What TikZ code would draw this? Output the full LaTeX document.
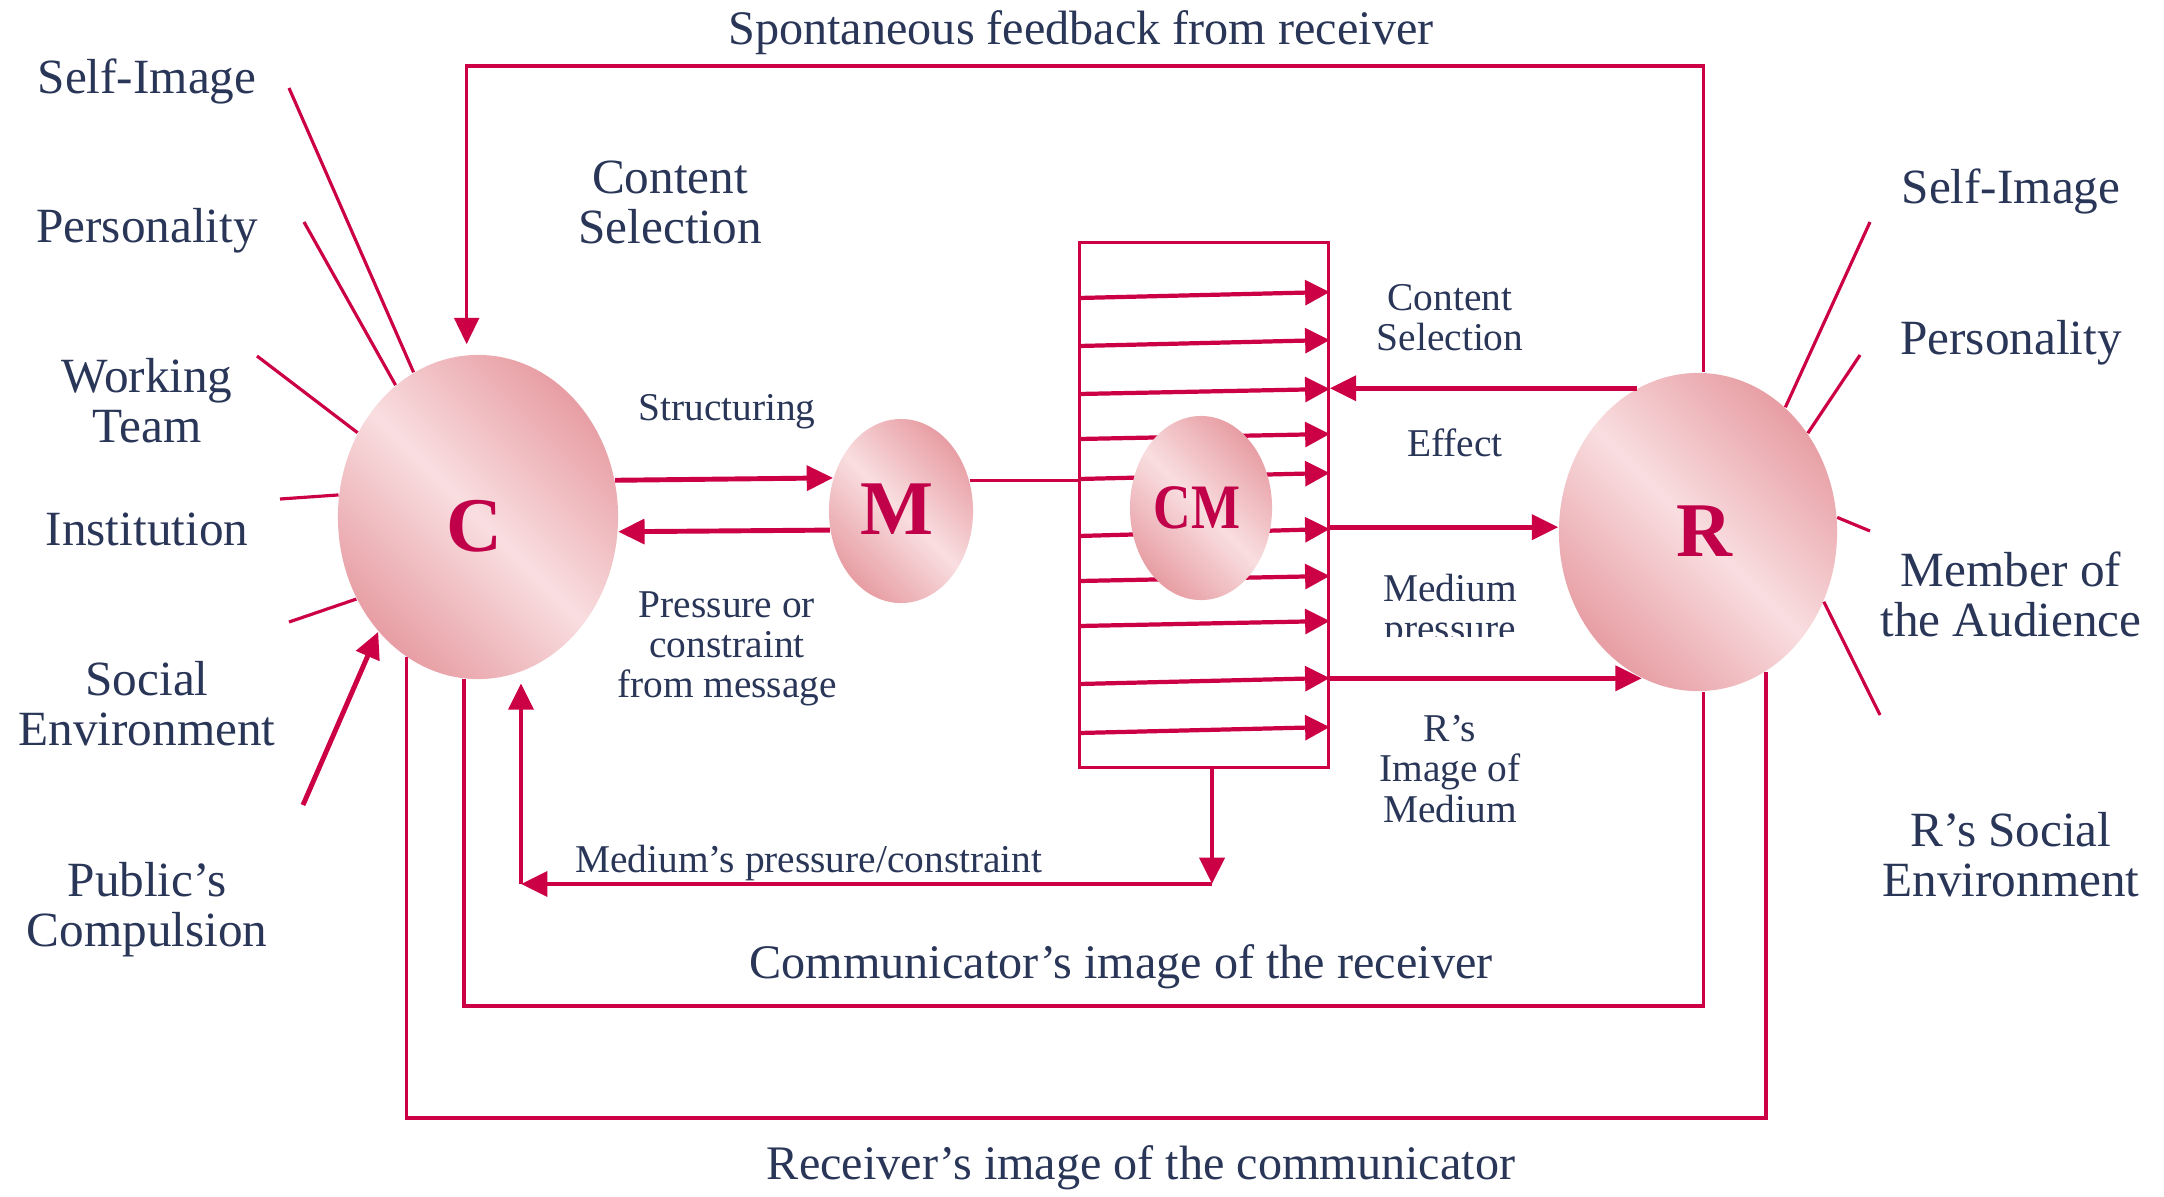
\documentclass[tikz,border=0pt]{standalone}
\usepackage{fontspec}
\setmainfont{Liberation Serif}
\usetikzlibrary{arrows.meta,shapes.geometric,calc}
\definecolor{crim}{RGB}{204,0,68}
\definecolor{navy}{RGB}{42,54,88}
\definecolor{letc}{RGB}{192,0,72}
\definecolor{pinkL}{RGB}{249,222,224}
\definecolor{pinkD}{RGB}{231,158,164}
\begin{document}
\begin{tikzpicture}[x=0.01cm,y=-0.01cm,
  frame/.style={draw=crim,line width=1pt},
  hd/.style={-{Triangle[length=7.5pt,width=7pt]}},
  arr/.style={draw=crim,line width=1.4pt,hd},
  inarr/.style={draw=crim,line width=1.2pt,-{Triangle[length=7pt,width=7pt]}},
  spoke/.style={draw=crim,line width=0.9pt},
  blob/.style={ellipse,inner sep=0pt,top color=pinkD,bottom color=pinkD,middle color=pinkL,shading angle=-45},
  letter/.style={font=\bfseries\fontsize{22}{22}\selectfont,text=letc,inner sep=0pt},
  biglab/.style={font=\fontsize{14}{14.2}\selectfont,text=navy,align=center,inner sep=0pt},
  caplab/.style={font=\fontsize{13.7}{14.2}\selectfont,text=navy,align=center,inner sep=0pt},
  midlab/.style={font=\fontsize{11.2}{11.4}\selectfont,text=navy,align=center,inner sep=0pt},
]
\fill[white] (0,0) rectangle (2164,1196);
\useasboundingbox (0,0) rectangle (2164,1196);

% ellipses and channel box
\node[blob,minimum width=2.8cm,minimum height=3.24cm] (C) at (478,517) {};
\node[blob,minimum width=1.44cm,minimum height=1.84cm] (M) at (901,511) {};
\node[blob,minimum width=2.78cm,minimum height=3.18cm] (R) at (1698,532) {};
\node[draw=crim,line width=0.8pt,minimum width=2.485cm,minimum height=5.24cm,inner sep=0pt] (box) at (1204,505) {};

% arrows inside the channel box
\foreach \a/\b in {298/292,346/340,394/389,439/434,479/473,536/529,581/576,626/621,684/678,733/727}
  \draw[inarr] (box.west |- 0,\a) -- (box.east |- 0,\b);

\node[blob,minimum width=1.42cm,minimum height=1.84cm] (CM) at (1201,508) {};

% letters
\node[letter] (Ct) at (474,526) {C};
\node[letter] (Mt) at (897,509) {M};
\node[letter,font=\bfseries\fontsize{18}{18}\selectfont] (CMt) at (1197,508) {\scalebox{0.82}[1]{CM}};
\node[letter] (Rt) at (1704,531) {R};

% feedback frames
\draw[frame,hd,shorten >=3pt] (R.88) -- (R.88 |- 0,66) -| (C.94);
\draw[frame] (C.265) -- (C.265 |- 0,1006) -| (R.272);
\draw[frame] (C.243.7) -- (C.243.7 |- 0,1118) -| (R.296.1);

% main arrows
\draw[arr] (C.15.6) -- (M.154.6);
\draw[arr] (M.195.1) -- (C.354.7);
\draw[frame] (M.24.6) -- (M.24.6 -| box.west);
\draw[arr] (R.113) -- (R.113 -| box.east);
\draw[arr] (box.east |- R.178.8) -- (R.178.8);
\draw[arr] (box.east |- R.249.4) -- (R.249.4);

% medium's pressure
\coordinate (mpR) at (1212,884);
\coordinate (mpL) at (521,884);
\draw[arr] (box.south -| mpR) -- (mpR);
\draw[arr] (mpR) -- (mpL);
\draw[arr,shorten >=1pt] (mpL) -- (mpL |- C.south);

% spokes of C
\coordinate (sC1) at (289,88);
\coordinate (sC2) at (304,222);
\coordinate (sC3) at (257,356);
\coordinate (sC4) at (280,499);
\coordinate (sC5) at (289,622);
\coordinate (sC6) at (303,805);
\draw[spoke] (sC1) -- (C.114.6);
\draw[spoke] (sC2) -- (C.122.8);
\draw[spoke] (sC3) -- (C.145.2);
\draw[spoke] (sC4) -- (C.171.9);
\draw[spoke] (sC5) -- (C.214.4);
\draw[arr] (sC6) -- (C.229.4);

% spokes of R
\coordinate (sR1) at (1870,222);
\coordinate (sR2) at (1860,355);
\coordinate (sR3) at (1870,531);
\coordinate (sR4) at (1880,715);
\draw[spoke] (sR1) -- (R.55.1);
\draw[spoke] (sR2) -- (R.42);
\draw[spoke] (sR3) -- (R.6.5);
\draw[spoke] (sR4) -- (R.331.3);

% left labels
\node[biglab] (lSelf) at (147,81) {Self-Image};
\node[biglab] (lPers) at (147,231) {Personality};
\node[biglab] (lWork) at (147,401) {Working\\Team};
\node[biglab] (lInst) at (147,529) {Institution};
\node[biglab] (lSoc) at (147,704) {Social\\Environment};
\node[biglab] (lPub) at (147,910) {Public's\\Compulsion};

% right labels
\node[biglab] (rSelf) at (2011,191) {Self-Image};
\node[biglab] (rPers) at (2011,343) {Personality};
\node[biglab] (rMem) at (2011,594) {Member of\\the Audience};
\node[biglab] (rSoc) at (2011,855) {R's Social\\Environment};

% captions
\node[caplab] (tSpont) at (1081,33) {Spontaneous feedback from receiver};
\node[biglab] (tCont) at (670,202) {Content\\Selection};
\node[caplab] (tComm) at (1121,967) {Communicator's image of the receiver};
\node[caplab] (tRec) at (1141,1168) {Receiver's image of the communicator};

% middle labels
\node[midlab] (tStruct) at (727,412) {Structuring};
\node[midlab] (tPress) at (727,649) {Pressure or\\constraint\\from message};
\node[midlab] (tMedC) at (809,863) {Medium's pressure/constraint};
\node[midlab] (tCS) at (1450,318) {Content\\Selection};
\node[midlab] (tEff) at (1455,443) {Effect};
\begin{scope}
\clip (1350,540) rectangle (1550,636);
\node[midlab] (tMedP) at (1450,612) {Medium\\pressure};
\end{scope}
\node[midlab] (tRIm) at (1450,769) {R's\\Image of\\Medium};
\end{tikzpicture}
\end{document}
